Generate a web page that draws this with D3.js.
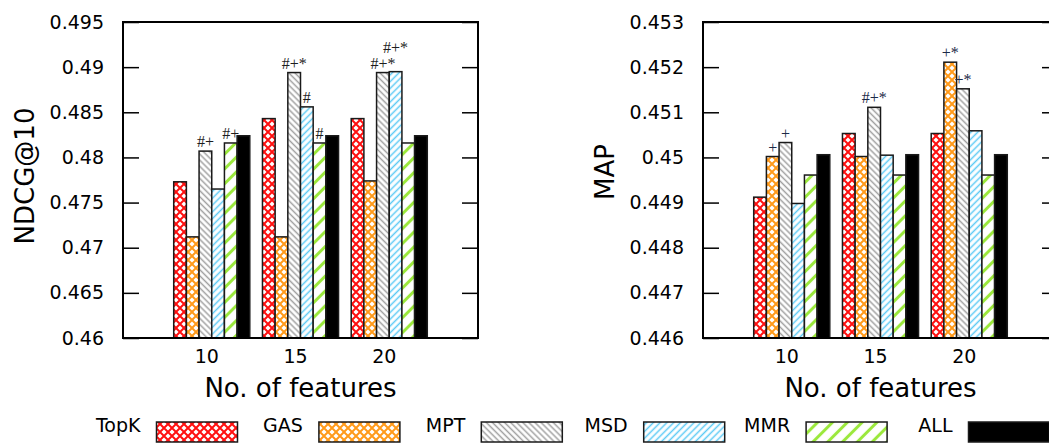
<!DOCTYPE html>
<html>
<head>
<meta charset="utf-8">
<script src="https://cdn.jsdelivr.net/npm/d3@7"></script>
<style>
body { margin: 0; background: #fff; }
svg text { font-family: "DejaVu Sans", Verdana, sans-serif; fill: #000; }
svg text.mark { font-family: "Liberation Serif", "Times New Roman", serif; font-size: 16px; }
</style>
</head>
<body>
<svg id="chart" width="1049" height="445"></svg>
<script>
var features = ["10", "15", "20"];
var methods = ["TopK", "GAS", "MPT", "MSD", "MMR", "ALL"];

var ndcgValues = [
	[0.4773, 0.4712, 0.4807, 0.4765, 0.4816, 0.4824],
	[0.4843, 0.4712, 0.4894, 0.4856, 0.4816, 0.4824],
	[0.4843, 0.4774, 0.4894, 0.4895, 0.4816, 0.4824]
];
var ndcgMarks = [
	["", "", "#+", "", "#+", ""],
	["", "", "#+*", "#", "#", ""],
	["", "", "#+*", "#+*", "", ""]
];
var ndcgTicks = [0.46, 0.465, 0.47, 0.475, 0.48, 0.485, 0.49, 0.495];

var mapValues = [
	[0.44912, 0.45002, 0.45033, 0.44898, 0.44961, 0.45006],
	[0.45053, 0.45002, 0.45111, 0.45005, 0.44961, 0.45006],
	[0.45053, 0.45211, 0.45152, 0.45059, 0.44961, 0.45006]
];
var mapMarks = [
	["", "+", "+", "", "", ""],
	["", "", "#+*", "", "", ""],
	["", "+*", "+*", "", "", ""]
];
var mapTicks = [0.446, 0.447, 0.448, 0.449, 0.45, 0.451, 0.452, 0.453];

var svg = d3.select("#chart");
var defs = svg.append("defs");

// cross hatch (diamonds)
function crossHatch(id, color) {
	var p = defs.append("pattern")
		.attr("id", id)
		.attr("patternUnits", "userSpaceOnUse")
		.attr("width", 8).attr("height", 8);
	p.append("rect").attr("width", 8).attr("height", 8).attr("fill", "#fff");
	p.append("path")
		.attr("d", "M-1,-1L9,9M9,-1L-1,9")
		.attr("stroke", color).attr("stroke-width", 2);
}
// single diagonal lines, angle 45 = "/" , -45 = "\"
function lines(id, color, gap, width, angle) {
	var p = defs.append("pattern")
		.attr("id", id)
		.attr("patternUnits", "userSpaceOnUse")
		.attr("width", gap).attr("height", gap)
		.attr("patternTransform", "rotate(" + angle + ")");
	p.append("rect").attr("width", gap).attr("height", gap).attr("fill", "#fff");
	p.append("line")
		.attr("x1", gap / 2).attr("y1", -1).attr("x2", gap / 2).attr("y2", gap + 1)
		.attr("stroke", color).attr("stroke-width", width);
}
crossHatch("p-topk", "#ff1010");
crossHatch("p-gas", "#ff9a1a");
lines("p-mpt", "#a0a0a0", 4.3, 1.5, -45);
lines("p-msd", "#5ccaf5", 4.8, 1.5, 45);
lines("p-mmr", "#9be83c", 10.5, 3, 45);

var fills = ["url(#p-topk)", "url(#p-gas)", "url(#p-mpt)", "url(#p-msd)", "url(#p-mmr)", "#000"];

function panel(x0, x1, values, marks, ticks, yLabel, yLabelY, markColor) {
	var top = 22, bottom = 338;
	var x = d3.scaleLinear().domain([0, 4]).range([x0, x1]);
	var y = d3.scaleLinear().domain([ticks[0], ticks[ticks.length - 1]]).range([bottom, top]);
	var bw = (x(1) - x(0)) / 7;
	var g = svg.append("g");

	g.append("g")
		.attr("transform", "translate(" + x0 + ",0)")
		.call(d3.axisLeft(y).tickValues(ticks).tickSize(-16).tickPadding(19)
			.tickFormat(function (d) { return String(+d.toFixed(3)); }))
		.call(function (a) {
			a.select(".domain").remove();
			a.selectAll("line").attr("stroke", "#000").attr("stroke-width", 1.5);
			a.selectAll("text").attr("font-size", 19).attr("fill", "#000")
				.style("font-family", "'DejaVu Sans', Verdana, sans-serif");
		});
	g.append("g")
		.attr("transform", "translate(" + x1 + ",0)")
		.call(d3.axisRight(y).tickValues(ticks).tickSize(-16).tickFormat(""))
		.call(function (a) {
			a.select(".domain").remove();
			a.selectAll("line").attr("stroke", "#000").attr("stroke-width", 1.5);
		});

	features.forEach(function (f, i) {
		var cx = x(i + 1);
		var grp = g.append("g");
		grp.selectAll("rect")
			.data(values[i])
			.enter()
			.append("rect")
			.attr("x", function (d, j) { return cx + (j - 3) * bw; })
			.attr("y", function (d) { return y(d); })
			.attr("width", bw)
			.attr("height", function (d) { return bottom - y(d); })
			.attr("fill", function (d, j) { return fills[j]; })
			.attr("stroke", "#1a1a1a")
			.attr("stroke-width", 1.5);

		marks[i].forEach(function (m, j) {
			if (!m) return;
			var ty = y(values[i][j]) - 4;
			// lift label if previous neighbour carries a label at nearly same height
			if (j > 0 && marks[i][j - 1] && Math.abs(y(values[i][j - 1]) - y(values[i][j])) < 8) ty -= 15;
			grp.append("text")
				.attr("class", "mark")
				.attr("x", cx + (j - 2.5) * bw)
				.attr("y", ty)
				.attr("text-anchor", "middle")
				.style("fill", markColor)
				.text(m);
		});

		g.append("text")
			.attr("x", cx - 5)
			.attr("y", 363)
			.attr("text-anchor", "middle")
			.attr("font-size", 19)
			.text(f);
	});

	g.append("rect")
		.attr("x", x0).attr("y", top)
		.attr("width", x1 - x0).attr("height", bottom - top)
		.attr("fill", "none").attr("stroke", "#000").attr("stroke-width", 2);

	g.append("text")
		.attr("x", (x0 + x1) / 2)
		.attr("y", 397)
		.attr("text-anchor", "middle")
		.attr("font-size", 26)
		.text("No. of features");

	g.append("text")
		.attr("transform", "translate(" + (x0 - 89) + "," + yLabelY + ") rotate(-90)")
		.attr("text-anchor", "middle")
		.attr("font-size", 26)
		.text(yLabel);
}

panel(123, 478, ndcgValues, ndcgMarks, ndcgTicks, "NDCG@10", 176, "#1e1e1e");
panel(703, 1058, mapValues, mapMarks, mapTicks, "MAP", 172, "#1c2a48");

// legend
var legend = svg.append("g");
methods.forEach(function (m, i) {
	var bx = 156.5 + i * 162.4;
	legend.append("text")
		.attr("x", bx - 16)
		.attr("y", 432)
		.attr("text-anchor", "end")
		.attr("font-size", 19)
		.text(m);
	legend.append("rect")
		.attr("x", bx).attr("y", 422)
		.attr("width", 81).attr("height", 20)
		.attr("fill", fills[i])
		.attr("stroke", "#1a1a1a").attr("stroke-width", 1.5);
});
</script>
</body>
</html>
